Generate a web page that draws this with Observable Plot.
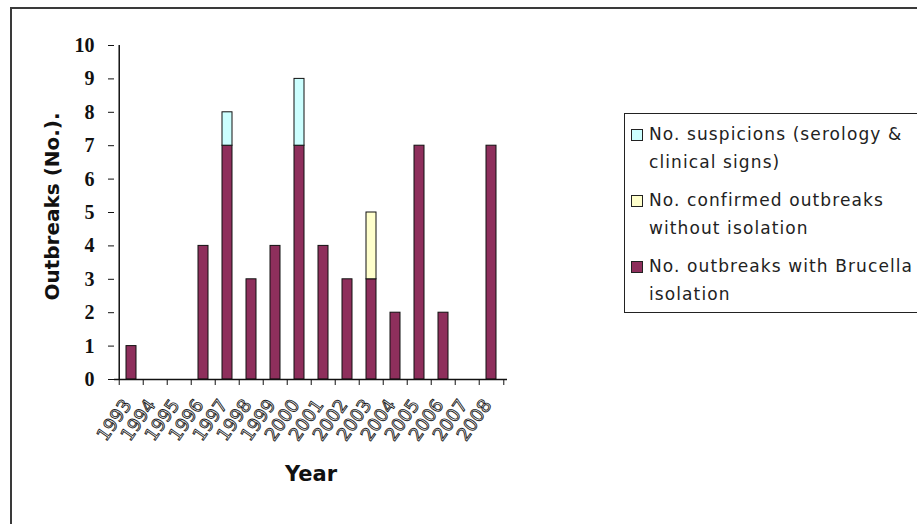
<!DOCTYPE html>
<html>
<head>
<meta charset="utf-8">
<script src="https://cdn.jsdelivr.net/npm/d3@7"></script>
<script src="https://cdn.jsdelivr.net/npm/@observablehq/plot@0.6"></script>
<style>
  html, body { margin: 0; padding: 0; background: #fff; }
  #wrap { position: relative; width: 917px; height: 524px; overflow: hidden; background: #fff; }
  #wrap svg { position: absolute; left: 0; top: 0; }
  #border { position: absolute; left: 10px; top: 7px; width: 940px; height: 560px;
            border: 2px solid #3a3a3a; box-sizing: border-box; pointer-events: none; }
  #legend { position: absolute; left: 624px; top: 113px; width: 320px; height: 200px;
            border: 1.5px solid #222; box-sizing: border-box; background: #fff;
            font-family: "DejaVu Sans", sans-serif; font-size: 17px; letter-spacing: 1.1px;
            color: #222; padding: 6px 0 0 6px; }
  .item { position: relative; padding-left: 18px; line-height: 28px; margin-bottom: 10px; white-space: nowrap; }
  .sw { position: absolute; left: 0; top: 9px; width: 10px; height: 10px; border: 1px solid #222; }
  g[aria-label="x-axis tick label"] { fill: #fff; stroke: #1a1a1a; stroke-width: 0.9px; }
</style>
</head>
<body>
<div id="wrap"></div>
<script>
// Brucellosis outbreaks per year, stacked by how each outbreak was established
const years = ["1993", "1994", "1995", "1996", "1997", "1998", "1999", "2000",
               "2001", "2002", "2003", "2004", "2005", "2006", "2007", "2008"];
const withIsolation    = [1, 0, 0, 4, 7, 3, 4, 7, 4, 3, 3, 2, 7, 2, 0, 7];
const confirmedNoIsol  = [0, 0, 0, 0, 0, 0, 0, 0, 0, 0, 2, 0, 0, 0, 0, 0];
const suspicions       = [0, 0, 0, 0, 1, 0, 0, 2, 0, 0, 0, 0, 0, 0, 0, 0];

// stacking order: bottom first
const seriesNames = [
  "No. outbreaks with Brucella isolation",
  "No. confirmed outbreaks without isolation",
  "No. suspicions (serology & clinical signs)"
];
const seriesValues = [withIsolation, confirmedNoIsol, suspicions];
const seriesColors = ["#8e2f5c", "#ffffcc", "#ccffff"];

// legend lines, top to bottom, with their line breaks
const legendLines = [
  ["No. suspicions (serology &", "clinical signs)"],
  ["No. confirmed outbreaks", "without isolation"],
  ["No. outbreaks with Brucella", "isolation"]
];
const legendColors = ["#ccffff", "#ffffcc", "#8e2f5c"];

const yTicks = [0, 1, 2, 3, 4, 5, 6, 7, 8, 9, 10];
const yTitle = "Outbreaks (No.).";
const xTitle = "Year";

const rows = [];
seriesNames.forEach((name, s) => {
  years.forEach((year, i) => {
    const v = seriesValues[s][i];
    if (v > 0) rows.push({year, series: name, value: v});
  });
});

const W = 917, H = 524;
const mL = 114, mR = 410, mT = 45, mB = 145;
const step = (W - mL - mR) / years.length;

const chart = Plot.plot({
  width: W,
  height: H,
  marginLeft: mL,
  marginRight: mR,
  marginTop: mT,
  marginBottom: mB,
  style: {background: "transparent", color: "#111", fontFamily: "DejaVu Sans, sans-serif"},
  x: {domain: years, padding: 0, axis: null},
  y: {domain: [0, 10], axis: null},
  color: {domain: seriesNames, range: seriesColors},
  marks: [
    Plot.barY(rows, Plot.stackY({
      x: "year", y: "value", fill: "series",
      stroke: "#111", strokeWidth: 1, insetLeft: 7, insetRight: 7
    })),
    // axis lines
    Plot.ruleY([0], {stroke: "#111", strokeWidth: 1.5}),
    Plot.ruleX([years[0]], {x: d => d, y1: 0, y2: 10, dx: -step / 2, stroke: "#111", strokeWidth: 1.5}),
    // y ticks and labels
    Plot.axisY({
      ticks: yTicks, tickSize: 6, tickPadding: 14, label: null,
      fontSize: 20, fontWeight: "bold", fontFamily: "Liberation Serif, serif"
    }),
    // x tick marks sit on the category boundaries
    Plot.axisX({ticks: years, tickSize: 6, tickFormat: () => "", dx: -step / 2, label: null}),
    Plot.axisX({ticks: [years[years.length - 1]], tickSize: 6, tickFormat: () => "", dx: step / 2, label: null}),
    // rotated year labels
    Plot.axisX({
      ticks: years, tickSize: 0, tickPadding: 22, tickRotate: -55, dx: -4, label: null,
      fontSize: 18, fontFamily: "DejaVu Sans, sans-serif"
    }),
    // axis titles
    Plot.text([yTitle], {
      text: d => d, frameAnchor: "left", textAnchor: "middle", dx: -62, dy: -6, rotate: -90,
      fontSize: 20, fontWeight: "bold", fontFamily: "DejaVu Sans, sans-serif", fill: "#111"
    }),
    Plot.text([xTitle], {
      text: d => d, frameAnchor: "bottom", dy: 101,
      fontSize: 21, fontWeight: "bold", fontFamily: "DejaVu Sans, sans-serif", fill: "#111"
    })
  ]
});

const wrap = document.getElementById("wrap");
wrap.appendChild(chart);

const border = document.createElement("div");
border.id = "border";
wrap.appendChild(border);

const legend = document.createElement("div");
legend.id = "legend";
legendLines.forEach((lines, i) => {
  const item = document.createElement("div");
  item.className = "item";
  const sw = document.createElement("span");
  sw.className = "sw";
  sw.style.background = legendColors[i];
  item.appendChild(sw);
  lines.forEach((t, j) => {
    if (j > 0) item.appendChild(document.createElement("br"));
    item.appendChild(document.createTextNode(t));
  });
  legend.appendChild(item);
});
wrap.appendChild(legend);
</script>
</body>
</html>
